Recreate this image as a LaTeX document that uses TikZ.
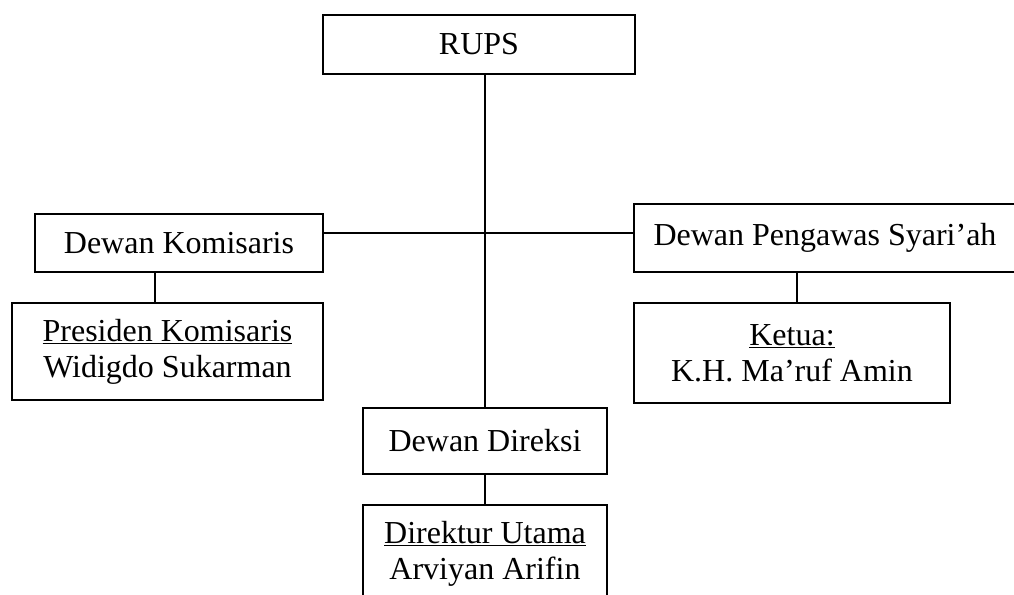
\documentclass[tikz,border=0pt]{standalone}
\usepackage{fontspec}
\setmainfont{Liberation Serif}
\tikzset{box/.style={draw, rectangle, line width=1.6pt, inner sep=0pt, align=center, font=\fontsize{32}{36}\selectfont}}
\begin{document}
\begin{tikzpicture}[x=1pt, y=-1pt, line width=1.6pt]
\useasboundingbox (0,0) rectangle (1014,594);
\node[box, minimum width=312, minimum height=59] (rups) at (479,44.5){RUPS};
\node[box, minimum width=288, minimum height=58] (komisaris) at (179,243){Dewan Komisaris};
\node[box, minimum width=311, minimum height=97] (presiden) at (167.5,351.5){\underline{Presiden Komisaris}\\Widigdo Sukarman};
\node[box, minimum width=390, minimum height=68] (pengawas) at (829,238){\hspace*{-8pt}Dewan Pengawas Syari’ah};
\node[box, minimum width=316, minimum height=100] (ketua) at (792,353){\underline{Ketua:}\\K.H. Ma’ruf Amin};
\node[box, minimum width=244, minimum height=66] (direksi) at (485,441){Dewan Direksi};
\node[box, minimum width=244, minimum height=98] (direktur) at (485,554){\underline{Direktur Utama}\\Arviyan Arifin};
\coordinate (hub) at (485,233);
\draw[](rups.south -| direksi.north) -- (direksi.north);
\draw[](komisaris.east |- hub) -- (pengawas.west |- hub);
\draw[]([xshift=-24pt]komisaris.south) -- ([xshift=-24pt]komisaris.south |- presiden.north);
\draw[]([xshift=5pt]ketua.north |- pengawas.south) -- ([xshift=5pt]ketua.north);
\draw[](direksi.south) -- (direktur.north);
\end{tikzpicture}
\end{document}
